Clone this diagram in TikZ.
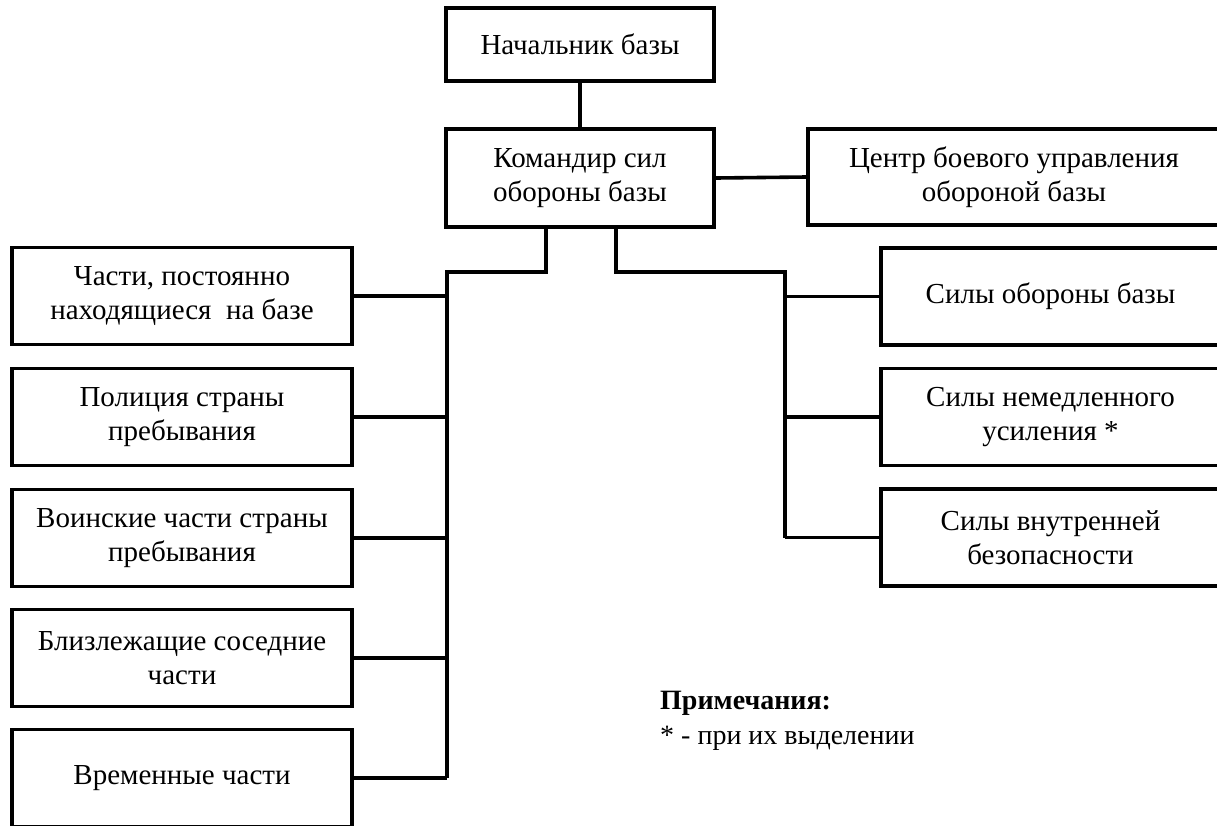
\documentclass[tikz,border=0pt]{standalone}
\usepackage{fontspec}
\setmainfont{Liberation Serif}
\begin{document}
\begin{tikzpicture}[x=1pt,y=-1pt,
  box/.style={draw,line width=3.6pt,align=center,inner sep=0pt,font=\fontsize{29}{34}\selectfont},
  lbox/.style={box,minimum width=340,minimum height=97},
  rbox/.style={box,minimum width=339,minimum height=97},
  note/.style={anchor=west,inner sep=0pt,font=\fontsize{28}{34}\selectfont},
  link/.style={line width=3.6pt}]
\useasboundingbox (0,0) rectangle (1217,825);
\clip (0,0) rectangle (1217,825);
\fill[white] (0,0) rectangle (1217,825);
% top
\node[box,minimum width=268,minimum height=73] (top) at (580,44.5) {Начальник базы};
\node[box,minimum width=268,minimum height=98] (cmd) at (580,178) {Командир сил\\обороны базы};
\node[box,minimum width=412,minimum height=96] (ctr) at (1014,177) {Центр боевого управления\\обороной базы};
% left column
\node[lbox] (l1) at (182,296) {Части, постоянно\\находящиеся~ на базе};
\node[lbox] (l2) at (182,417) {Полиция страны\\пребывания};
\node[lbox] (l3) at (182,538) {Воинские части страны\\пребывания};
\node[lbox] (l4) at (182,658) {Близлежащие соседние\\части};
\node[lbox] (l5) at (182,778) {Временные части};
% right column
\node[rbox] (r1) at (1050.5,296.5) {Силы обороны базы};
\node[rbox] (r2) at (1050.5,417) {Силы немедленного\\усиления *};
\node[rbox] (r3) at (1050.5,537.5) {Силы внутренней\\безопасности};
% notes
\node[note,font=\fontsize{28}{34}\selectfont\bfseries] (n1) at (660,703) {Примечания:};
\node[note] (n2) at (660,738) {* - при их выделении};
% connectors
\coordinate (lb) at (447,272);
\coordinate (rb) at (785,272);
\draw[link] (top.south) -- (cmd.north);
\draw[link] (cmd.east) -- (ctr.west);
\draw[link] (cmd.south -| 546,0) -- (546,272) -- (lb) -- (l5.east -| lb);
\draw[link] (cmd.south -| 616,0) -- (616,272) -- (rb) -- (r3.west -| rb);
\foreach \n in {l1,l2,l3,l4,l5} \draw[link] (\n.east) -- (\n.east -| lb);
\foreach \n in {r1,r2,r3} \draw[link] (\n.west) -- (\n.west -| rb);
\end{tikzpicture}
\end{document}
